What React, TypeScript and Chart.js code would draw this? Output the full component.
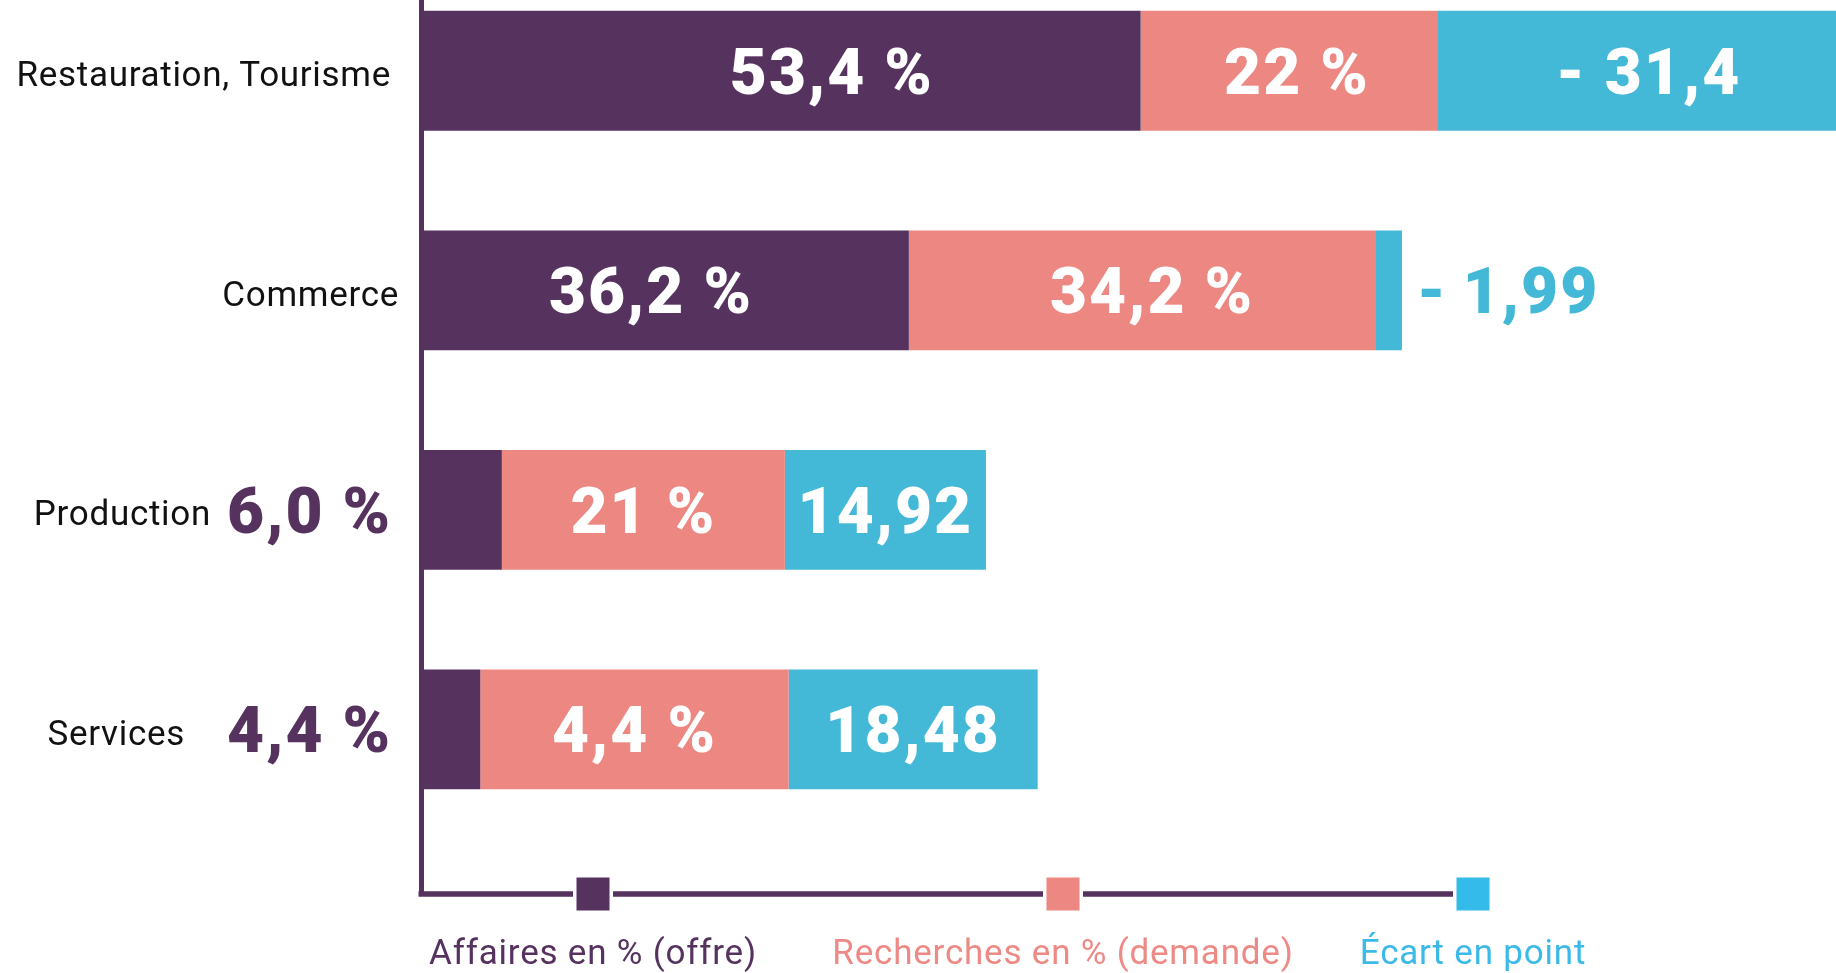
import React, { useEffect, useRef } from 'react';
import { Chart, registerables } from 'chart.js';

Chart.register(...registerables);

// ---------- DATA ----------
const CATEGORIES = ['Restauration, Tourisme', 'Commerce', 'Production', 'Services'];
const SERIES_NAMES = ['Affaires en % (offre)', 'Recherches en % (demande)', 'Écart en point'];
const OFFRE = [53.4, 36.2, 6.0, 4.4];
const DEMANDE = [22, 34.6, 21, 22.88];
const ECART = [-31.4, -1.99, 14.92, 18.48];
const OFFRE_LABELS = ['53,4 %', '36,2 %', '6,0 %', '4,4 %'];
const DEMANDE_LABELS = ['22 %', '34,2 %', '21 %', '4,4 %'];
const ECART_LABELS = ['- 31,4', '-\u20091,99', '14,92', '18,48'];

// ---------- STYLE ----------
const PURPLE = '#56325F';
const PINK = '#EC8782';
const BLUE = '#43B8D7';
const LEGEND_SQUARE_COLORS = [PURPLE, PINK, '#35BBEA'];
const LEGEND_TEXT_COLORS = [PURPLE, '#EE8A85', '#3BB9E8'];
const CAT_LABEL_RIGHT = [-30, -22, -210, -236]; // offset from axis
const LEGEND_X = [172, 642, 1052]; // offset from axis
// key: `${row}-${dataset}`
const LABEL_DX: Record<string, number> = { '0-0': 51, '0-1': 8, '1-0': -14, '1-1': 10 };
const VALUE_FONT = '900 64px Roboto';
const TEXT_FONT = '400 35px Roboto';

const overlayPlugin = {
  id: 'overlay',
  afterDatasetsDraw(chart: any) {
    const ctx = chart.ctx;
    const ca = chart.chartArea;
    const labelSets = [OFFRE_LABELS, DEMANDE_LABELS, ECART_LABELS];
    ctx.save();
    ctx.font = VALUE_FONT;
    ctx.letterSpacing = '2px';
    ctx.textBaseline = 'alphabetic';
    chart.data.datasets.forEach((ds: any, di: number) => {
      const meta = chart.getDatasetMeta(di);
      meta.data.forEach((bar: any, i: number) => {
        const text = labelSets[di][i];
        const w = ctx.measureText(text).width;
        const barW = Math.abs(bar.x - bar.base);
        const y = bar.y + 23;
        if (w + 20 > barW) {
          ctx.fillStyle = ds.backgroundColor;
          if (di === 0) {
            ctx.textAlign = 'right';
            ctx.fillText(text, ca.left - 29, y);
          } else {
            ctx.textAlign = 'left';
            ctx.fillText(text, Math.max(bar.x, bar.base) + 15, y);
          }
        } else {
          ctx.fillStyle = '#ffffff';
          ctx.textAlign = 'center';
          const dx = LABEL_DX[`${i}-${di}`] || 0;
          ctx.fillText(text, (bar.x + bar.base) / 2 + dx, y);
        }
      });
    });
    ctx.restore();
  },
  afterDraw(chart: any) {
    const ctx = chart.ctx;
    const ca = chart.chartArea;
    const yScale = chart.scales.y;
    ctx.save();
    // category labels
    ctx.font = TEXT_FONT;
    ctx.letterSpacing = '0.7px';
    ctx.fillStyle = '#111111';
    ctx.textAlign = 'right';
    ctx.textBaseline = 'alphabetic';
    CATEGORIES.forEach((c, i) => {
      ctx.fillText(c, ca.left + CAT_LABEL_RIGHT[i], yScale.getPixelForValue(i) + 15.5);
    });
    // legend line + squares
    const lineY = ca.bottom;
    const sq = 33;
    const gap = 3.5;
    const xs = LEGEND_X.map((o) => ca.left + o);
    ctx.strokeStyle = PURPLE;
    ctx.lineWidth = 5.5;
    ctx.lineCap = 'butt';
    ctx.beginPath();
    ctx.moveTo(ca.left - 2.5, lineY);
    ctx.lineTo(xs[xs.length - 1] - sq / 2 - gap, lineY);
    ctx.stroke();
    ctx.font = TEXT_FONT;
    ctx.letterSpacing = '0.8px';
    ctx.textAlign = 'center';
    xs.forEach((x, i) => {
      ctx.fillStyle = '#ffffff';
      ctx.fillRect(x - sq / 2 - gap, lineY - sq / 2, sq + 2 * gap, sq);
      ctx.fillStyle = LEGEND_SQUARE_COLORS[i];
      ctx.fillRect(x - sq / 2, lineY - sq / 2, sq, sq);
      ctx.fillStyle = LEGEND_TEXT_COLORS[i];
      ctx.fillText(chart.data.datasets[i].label, x, lineY + 70);
    });
    ctx.restore();
  },
};

export default function App() {
  const canvasRef = useRef<HTMLCanvasElement | null>(null);

  useEffect(() => {
    const canvas = canvasRef.current;
    if (!canvas) return;
    const toPoints = (arr: number[]) => arr.map((v, i) => ({ x: Math.abs(v), y: i }));
    const chart = new Chart(canvas, {
      type: 'bar',
      data: {
        datasets: [
          { label: SERIES_NAMES[0], data: toPoints(OFFRE), backgroundColor: PURPLE, borderWidth: 0 },
          { label: SERIES_NAMES[1], data: toPoints(DEMANDE), backgroundColor: PINK, borderWidth: 0 },
          { label: SERIES_NAMES[2], data: toPoints(ECART), backgroundColor: BLUE, borderWidth: 0 },
        ],
      } as any,
      options: {
        indexAxis: 'y',
        responsive: false,
        devicePixelRatio: 1,
        animation: false,
        barPercentage: 0.683,
        categoryPercentage: 0.8,
        layout: { padding: { left: 0, right: 0, top: 0, bottom: 79 } },
        plugins: { legend: { display: false }, tooltip: { enabled: false } },
        scales: {
          x: { type: 'linear', stacked: true, min: 0, max: 105, display: false },
          y: {
            type: 'linear',
            stacked: true,
            reverse: true,
            offset: false,
            grace: 0,
            min: -0.3227,
            max: 3.75,
            grid: { display: false, offset: false },
            border: { display: true, color: PURPLE, width: 5 },
            ticks: { display: false },
            afterBuildTicks: (scale: any) => {
              scale.ticks = CATEGORIES.map((_, i) => ({ value: i }));
            },
            afterFit: (scale: any) => {
              scale.width = 421;
            },
          },
        },
      } as any,
      plugins: [overlayPlugin],
    });
    return () => chart.destroy();
  }, []);

  return (
    <div style={{ position: 'absolute', left: 0, top: 0, width: 1836, height: 973, background: '#ffffff' }}>
      <canvas ref={canvasRef} width={1836} height={973} />
    </div>
  );
}
